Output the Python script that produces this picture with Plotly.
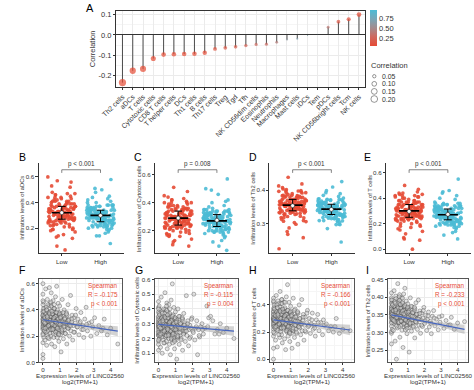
import numpy as np
import plotly.graph_objects as go

W, H = 474, 390
FONT = "Liberation Sans, Arial, sans-serif"

# ---------------- Panel A data ----------------
cells = ["Th2 cells", "aDCs", "T cells", "Cytotoxic cells", "CD8 T cells", "T helper cells",
         "DCs", "Th1 cells", "B cells", "Th17 cells", "Treg", "Tgd", "Tfh",
         "NK CD56dim cells", "Eosinophils", "Neutrophils", "Macrophages", "Mast cells",
         "iDCs", "Tem", "pDCs", "NK CD56bright cells", "Tcm", "NK cells"]
corr = [-0.233, -0.175, -0.166, -0.115, -0.096, -0.094, -0.093, -0.092, -0.087, -0.068,
        -0.063, -0.058, -0.052, -0.046, -0.045, -0.036, -0.022, -0.018, -0.002, 0.001,
        0.038, 0.065, 0.077, 0.100]
pval = [1e-7, 1e-4, 1e-4, 0.008, 0.027, 0.030, 0.032, 0.034, 0.045, 0.12,
        0.15, 0.18, 0.23, 0.29, 0.30, 0.41, 0.61, 0.68, 0.96, 0.98,
        0.38, 0.13, 0.076, 0.021]
a_ytick_vals = [-0.2, -0.1, 0.0, 0.1]
a_ytick_text = ["-0.2", "-0.1", "0.0", "0.1"]
cbar_ticks = [0.25, 0.50, 0.75]
size_legend = [0.05, 0.10, 0.15, 0.20]

# ---------------- per-sample data (B-I) ----------------
expr = [0]*14 + [
    0.02, 0.04, 0.05, 0.07, 0.08, 0.10, 0.11, 0.12, 0.14, 0.15, 0.16, 0.18, 0.19, 0.21, 0.22,
    0.23, 0.25, 0.26, 0.27, 0.28, 0.30, 0.31, 0.32, 0.33, 0.35, 0.36, 0.37, 0.38, 0.39, 0.40,
    0.41, 0.42, 0.43, 0.44, 0.45, 0.46, 0.47, 0.48, 0.49, 0.50, 0.51, 0.53, 0.54, 0.55, 0.57,
    0.58, 0.59, 0.60, 0.61, 0.62, 0.63, 0.64, 0.65, 0.66, 0.67, 0.68, 0.69, 0.70, 0.71, 0.72,
    0.73, 0.74, 0.75, 0.76, 0.77, 0.78,
    0.79, 0.80, 0.81, 0.82, 0.83, 0.84, 0.85, 0.86, 0.88, 0.89, 0.90, 0.91, 0.92, 0.94, 0.95,
    0.96, 0.97, 0.98, 0.99,
    1.00, 1.02, 1.04, 1.05, 1.07, 1.08, 1.10, 1.12, 1.14, 1.15, 1.17, 1.19, 1.21, 1.23, 1.25,
    1.27, 1.29, 1.31, 1.33, 1.36, 1.38, 1.41, 1.43, 1.46, 1.48,
    1.51, 1.54, 1.57, 1.60, 1.63, 1.66, 1.69, 1.72, 1.76, 1.79, 1.83, 1.87, 1.91, 1.96,
    2.01, 2.07, 2.13, 2.18, 2.24, 2.29, 2.35, 2.41, 2.47,
    2.55, 2.63, 2.72, 2.83, 2.94,
    3.05, 3.18, 3.30, 3.45, 3.62, 3.80, 4.00, 4.42,
    0, 0, 0, 0, 0, 0, 0, 0,
    0.01, 0.03, 0.06, 0.09, 0.13, 0.17, 0.20, 0.24, 0.29, 0.34, 0.03, 0.06, 0.09, 0.12, 0.16,
    0.20, 0.24, 0.28, 0.31, 0.35, 0.38, 0.41, 0.44, 0.47, 0.05, 0.14, 0.22, 0.27, 0.33, 0.39,
    0.43, 0.46, 0.49, 0.11, 0.25,
    0.52, 0.56, 0.60, 0.63, 0.66, 0.69, 0.72, 0.75, 0.78, 0.81, 0.84, 0.87, 0.90, 0.93, 0.96,
    0.99, 0.53, 0.58, 0.62, 0.67, 0.71, 0.76, 0.80, 0.85, 0.89, 0.94, 0.98, 0.55, 0.65, 0.74,
    1.01, 1.06, 1.11, 1.16, 1.20, 1.24, 1.28, 1.32, 1.37, 1.42, 1.47, 1.52, 1.56, 1.03, 1.13,
    1.26, 1.39,
    1.64, 1.71, 1.82, 1.93, 2.04, 2.21, 2.38, 2.58,
    2.88, 3.55]

adcs = [
    0.60, 0.03, 0.36, 0.28, 0.44, 0.22, 0.31, 0.06, 0.39, 0.15, 0.33, 0.52, 0.26, 0.35,
    0.29, 0.46, 0.19, 0.34, 0.25, 0.41, 0.30, 0.17, 0.37, 0.23, 0.56, 0.32, 0.27, 0.40, 0.13,
    0.35, 0.29, 0.48, 0.21, 0.33, 0.24, 0.38, 0.31, 0.27, 0.43, 0.18, 0.34, 0.57, 0.28, 0.36,
    0.22, 0.45, 0.30, 0.26, 0.39, 0.32, 0.20, 0.35, 0.53, 0.29, 0.14, 0.37, 0.25, 0.42, 0.31,
    0.27, 0.34, 0.47, 0.23, 0.36, 0.30, 0.19, 0.39, 0.28, 0.33, 0.24, 0.41, 0.12, 0.31, 0.35,
    0.26, 0.50, 0.29, 0.38, 0.21, 0.32,
    0.27, 0.36, 0.58, 0.24, 0.31, 0.19, 0.40, 0.28, 0.33, 0.22, 0.45, 0.30, 0.35, 0.16, 0.29,
    0.38, 0.25, 0.32, 0.43,
    0.27, 0.34, 0.21, 0.30, 0.08, 0.37, 0.26, 0.32, 0.48, 0.23, 0.29, 0.35, 0.18, 0.31, 0.40,
    0.25, 0.28, 0.34, 0.22, 0.30, 0.38, 0.14, 0.27, 0.32, 0.44,
    0.26, 0.33, 0.20, 0.29, 0.51, 0.24, 0.31, 0.36, 0.17, 0.28, 0.34, 0.23, 0.30, 0.41,
    0.27, 0.33, 0.21, 0.30, 0.38, 0.25, 0.28, 0.19, 0.33,
    0.42, 0.24, 0.30, 0.20, 0.27,
    0.34, 0.22, 0.28, 0.24, 0.33, 0.21, 0.26, 0.14,
    0.38, 0.27, 0.33, 0.47, 0.21, 0.30, 0.36, 0.25,
    0.32, 0.41, 0.26, 0.35, 0.29, 0.37, 0.23, 0.33, 0.44, 0.28, 0.31, 0.39, 0.24, 0.34, 0.30,
    0.42, 0.27, 0.36, 0.19, 0.33, 0.38, 0.29, 0.35, 0.46, 0.31, 0.26, 0.40, 0.34, 0.28, 0.37,
    0.32, 0.25, 0.43, 0.30, 0.35,
    0.30, 0.37, 0.26, 0.33, 0.41, 0.28, 0.35, 0.23, 0.31, 0.38, 0.27, 0.34, 0.29, 0.22, 0.36,
    0.31, 0.39, 0.25, 0.32, 0.44, 0.28, 0.35, 0.30, 0.26, 0.33, 0.21, 0.37, 0.29, 0.34, 0.31,
    0.29, 0.35, 0.24, 0.31, 0.38, 0.27, 0.33, 0.22, 0.30, 0.36, 0.26, 0.32, 0.28, 0.34, 0.25,
    0.30, 0.37,
    0.28, 0.33, 0.23, 0.36, 0.27, 0.31, 0.25, 0.29,
    0.31, 0.26]

cyto = [
    0.45, 0.22, 0.31, 0.25, 0.38, 0.18, 0.29, 0.12, 0.34, 0.16, 0.27, 0.41, 0.23, 0.32,
    0.26, 0.42, 0.20, 0.30, 0.24, 0.36, 0.28, 0.14, 0.33, 0.22, 0.48, 0.29, 0.25, 0.35, 0.10,
    0.31, 0.27, 0.39, 0.19, 0.30, 0.23, 0.35, 0.28, 0.26, 0.37, 0.17, 0.31, 0.51, 0.24, 0.33,
    0.21, 0.40, 0.29, 0.22, 0.34, 0.30, 0.18, 0.32, 0.44, 0.27, 0.13, 0.32, 0.24, 0.38, 0.28,
    0.25, 0.33, 0.43, 0.20, 0.31, 0.27, 0.16, 0.36, 0.26, 0.29, 0.23, 0.35, 0.09, 0.30, 0.32,
    0.22, 0.46, 0.28, 0.34, 0.19, 0.29,
    0.24, 0.33, 0.57, 0.22, 0.28, 0.17, 0.36, 0.26, 0.30, 0.20, 0.41, 0.27, 0.31, 0.13, 0.26,
    0.34, 0.23, 0.29, 0.38,
    0.25, 0.31, 0.19, 0.27, 0.06, 0.33, 0.24, 0.29, 0.40, 0.21, 0.27, 0.31, 0.16, 0.28, 0.35,
    0.22, 0.26, 0.30, 0.20, 0.28, 0.33, 0.12, 0.25, 0.29, 0.37,
    0.24, 0.30, 0.18, 0.27, 0.49, 0.22, 0.28, 0.32, 0.15, 0.26, 0.29, 0.21, 0.27, 0.34,
    0.25, 0.50, 0.19, 0.27, 0.32, 0.09, 0.26, 0.21, 0.28,
    0.30, 0.23, 0.27, 0.42, 0.34,
    0.35, 0.32, 0.23, 0.26, 0.30, 0.24, 0.27, 0.20,
    0.33, 0.24, 0.30, 0.40, 0.19, 0.28, 0.35, 0.22,
    0.29, 0.37, 0.23, 0.32, 0.27, 0.34, 0.21, 0.30, 0.40, 0.25, 0.28, 0.36, 0.22, 0.31, 0.27,
    0.38, 0.24, 0.33, 0.17, 0.30, 0.35, 0.26, 0.32, 0.42, 0.28, 0.23, 0.37, 0.31, 0.25, 0.34,
    0.29, 0.22, 0.39, 0.27, 0.32,
    0.27, 0.34, 0.23, 0.30, 0.37, 0.25, 0.32, 0.20, 0.28, 0.35, 0.24, 0.31, 0.26, 0.19, 0.33,
    0.28, 0.36, 0.22, 0.29, 0.40, 0.25, 0.32, 0.27, 0.23, 0.30, 0.18, 0.34, 0.26, 0.31, 0.28,
    0.26, 0.32, 0.21, 0.28, 0.35, 0.24, 0.30, 0.19, 0.27, 0.33, 0.23, 0.29, 0.25, 0.31, 0.22,
    0.27, 0.34,
    0.25, 0.30, 0.20, 0.33, 0.24, 0.28, 0.22, 0.26,
    0.28, 0.23]

th2 = [
    0.412, 0.298, 0.361, 0.343, 0.384, 0.318, 0.352, 0.268, 0.373, 0.303, 0.357, 0.398, 0.331, 0.366,
    0.348, 0.392, 0.309, 0.362, 0.337, 0.381, 0.354, 0.306, 0.371, 0.326, 0.418, 0.349, 0.341, 0.374,
    0.276, 0.359, 0.346, 0.403, 0.322, 0.364, 0.225, 0.377, 0.351, 0.338, 0.389, 0.313, 0.363, 0.438,
    0.336, 0.369, 0.328, 0.394, 0.355, 0.332, 0.383, 0.357, 0.317, 0.372, 0.407, 0.344, 0.287, 0.368,
    0.339, 0.379, 0.353,
    0.342, 0.358, 0.397, 0.321, 0.367, 0.347, 0.307, 0.378, 0.336, 0.356, 0.329, 0.382, 0.258, 0.352,
    0.363, 0.327, 0.409, 0.348, 0.372, 0.316, 0.354,
    0.337, 0.361, 0.425, 0.326, 0.349, 0.308, 0.371, 0.341, 0.353, 0.318, 0.389, 0.343, 0.359, 0.297,
    0.338, 0.367, 0.329, 0.348, 0.381,
    0.331, 0.357, 0.314, 0.344, 0.245, 0.369, 0.333, 0.351, 0.398, 0.322, 0.339, 0.358, 0.304, 0.347,
    0.373, 0.327, 0.336, 0.354, 0.315, 0.342, 0.363, 0.285, 0.331, 0.349, 0.384,
    0.328, 0.352, 0.309, 0.338, 0.392, 0.321, 0.343, 0.361, 0.298, 0.336, 0.355, 0.317, 0.341, 0.371,
    0.326, 0.349, 0.306, 0.337, 0.358, 0.316, 0.332, 0.297, 0.346,
    0.362, 0.319, 0.338, 0.308, 0.329,
    0.347, 0.312, 0.334, 0.321, 0.343, 0.309, 0.327, 0.331,
    0.371, 0.343, 0.358, 0.392, 0.327, 0.352, 0.366, 0.338,
    0.356, 0.381, 0.339, 0.363, 0.347, 0.374, 0.331, 0.358, 0.396, 0.342, 0.352, 0.378, 0.336, 0.361,
    0.349, 0.387, 0.341, 0.366, 0.318, 0.357, 0.372, 0.346, 0.362, 0.401, 0.351, 0.334, 0.383, 0.359,
    0.343, 0.369, 0.355, 0.329, 0.391, 0.348, 0.364,
    0.348, 0.369, 0.332, 0.356, 0.384, 0.341, 0.362, 0.324, 0.351, 0.376, 0.338, 0.359, 0.344, 0.319,
    0.367, 0.352, 0.379, 0.333, 0.355, 0.397, 0.341, 0.363, 0.349, 0.335, 0.357, 0.312, 0.372, 0.345,
    0.361, 0.353,
    0.343, 0.362, 0.325, 0.349, 0.374, 0.336, 0.356, 0.318, 0.345, 0.367, 0.331, 0.352, 0.339, 0.358,
    0.327, 0.346, 0.371,
    0.338, 0.354, 0.321, 0.362, 0.333, 0.347, 0.326, 0.341,
    0.344, 0.322]

tcell = [
    0.42, 0.00, 0.33, 0.27, 0.37, 0.22, 0.30, 0.08, 0.35, 0.17, 0.29, 0.45, 0.25, 0.31,
    0.28, 0.40, 0.19, 0.32, 0.26, 0.36, 0.29, 0.14, 0.34, 0.24, 0.47, 0.30, 0.26, 0.38, 0.09,
    0.31, 0.28, 0.43, 0.21, 0.29, 0.24, 0.35, 0.27, 0.25, 0.39, 0.16, 0.32, 0.50, 0.26, 0.33,
    0.20, 0.41, 0.30, 0.23, 0.36, 0.28, 0.18, 0.34, 0.44, 0.27, 0.12, 0.33, 0.25, 0.37, 0.29,
    0.26, 0.31, 0.42, 0.22, 0.30, 0.28, 0.15, 0.37, 0.27, 0.32, 0.24, 0.34, 0.07, 0.29, 0.35,
    0.23, 0.46, 0.26, 0.33, 0.20, 0.30,
    0.24, 0.31, 0.55, 0.22, 0.27, 0.17, 0.36, 0.25, 0.29, 0.20, 0.42, 0.26, 0.33, 0.13, 0.27,
    0.34, 0.23, 0.30, 0.39,
    0.24, 0.32, 0.19, 0.27, 0.08, 0.35, 0.25, 0.28, 0.45, 0.21, 0.26, 0.31, 0.16, 0.29, 0.37,
    0.22, 0.25, 0.32, 0.19, 0.27, 0.34, 0.11, 0.24, 0.28, 0.40,
    0.23, 0.30, 0.18, 0.26, 0.44, 0.21, 0.29, 0.33, 0.14, 0.25, 0.31, 0.20, 0.27, 0.36,
    0.24, 0.30, 0.19, 0.26, 0.34, 0.22, 0.25, 0.17, 0.29,
    0.33, 0.21, 0.27, 0.18, 0.25,
    0.26, 0.21, 0.24, 0.20, 0.30, 0.19, 0.22, 0.21,
    0.35, 0.26, 0.31, 0.43, 0.20, 0.29, 0.33, 0.24,
    0.30, 0.38, 0.24, 0.33, 0.28, 0.35, 0.22, 0.31, 0.41, 0.26, 0.29, 0.37, 0.23, 0.32, 0.28,
    0.40, 0.25, 0.34, 0.18, 0.31, 0.36, 0.27, 0.33, 0.44, 0.29, 0.24, 0.38, 0.32, 0.26, 0.35,
    0.30, 0.23, 0.41, 0.28, 0.33,
    0.28, 0.35, 0.24, 0.31, 0.38, 0.26, 0.33, 0.21, 0.29, 0.36, 0.25, 0.32, 0.27, 0.20, 0.34,
    0.29, 0.37, 0.23, 0.30, 0.42, 0.26, 0.33, 0.28, 0.24, 0.31, 0.19, 0.35, 0.27, 0.32, 0.29,
    0.27, 0.33, 0.22, 0.29, 0.36, 0.25, 0.31, 0.20, 0.28, 0.34, 0.24, 0.30, 0.26, 0.32, 0.23,
    0.28, 0.35,
    0.26, 0.31, 0.21, 0.34, 0.25, 0.29, 0.23, 0.27,
    0.29, 0.24]

groups = ["Low", "High"]
group_p = ["p < 0.001", "p = 0.008", "p < 0.001", "p < 0.001"]   # B, C, D, E
spear_r = ["R = -0.175", "R = -0.115", "R = -0.166", "R = -0.233"]  # F, G, H, I
spear_p = ["p < 0.001", "p = 0.004", "p < 0.001", "p < 0.001"]

fit_x = [0, 1, 2, 3, 4, 4.42]
fit_F = [0.325, 0.305, 0.286, 0.266, 0.246, 0.238]
hw_F = [0.010, 0.007, 0.012, 0.022, 0.033, 0.038]
fit_G = [0.295, 0.285, 0.275, 0.264, 0.254, 0.250]
hw_G = [0.009, 0.006, 0.010, 0.019, 0.028, 0.033]
fit_H = [0.290, 0.273, 0.256, 0.239, 0.222, 0.215]
hw_H = [0.010, 0.007, 0.012, 0.022, 0.033, 0.038]
fit_I = [0.350, 0.341, 0.331, 0.322, 0.313, 0.309]
hw_I = [0.004, 0.003, 0.004, 0.007, 0.011, 0.013]

n = len(expr)
assert all(len(a) == n for a in (adcs, cyto, th2, tcell)), [len(a) for a in (expr, adcs, cyto, th2, tcell)]

# ---------------- helpers ----------------
def pxx(x):
    return x / W

def pyy(y):
    return 1 - y / H

def dot(r):
    return 15 * np.sqrt(abs(r))

RED = "#E64B35"
BLUE = "#4DBBD5"
TXT = "#333333"

def ax_common(**kw):
    d = dict(showgrid=False, zeroline=False, showline=True, linecolor=TXT, linewidth=0.7,
             ticks="outside", ticklen=2.2, tickwidth=0.6, tickcolor=TXT,
             tickfont=dict(size=6.2, color=TXT, family=FONT), fixedrange=True)
    d.update(kw)
    return d

fig = go.Figure()
layout = dict(width=W, height=H, margin=dict(l=0, r=0, t=0, b=0), autosize=False,
              paper_bgcolor="white", plot_bgcolor="white", showlegend=False,
              font=dict(family=FONT, color=TXT))
annotations = []
shapes = []

def ann(text, x, y, size=6.3, xanchor="center", yanchor="middle", color=TXT, angle=0,
        xref="paper", yref="paper"):
    annotations.append(dict(text=text, x=x, y=y, xref=xref, yref=yref, showarrow=False,
                            xanchor=xanchor, yanchor=yanchor, textangle=angle, borderpad=0,
                            font=dict(size=size, color=color, family=FONT)))

# ---------------- Panel A ----------------
sx, sy = [], []
for c, r in zip(cells, corr):
    sx += [c, c, None]
    sy += [0, r, None]
fig.add_trace(go.Scatter(x=sx, y=sy, mode="lines", line=dict(color="#3a3a3a", width=0.9),
                         xaxis="x", yaxis="y", hoverinfo="skip"))
CS = [[0.0, "#E64B35"], [0.25, "#D0675C"], [0.5, "#A38C8E"], [0.75, "#78A7B8"], [1.0, "#4DBBD5"]]
fig.add_trace(go.Scatter(
    x=cells, y=corr, mode="markers", xaxis="x", yaxis="y",
    marker=dict(size=[dot(r) for r in corr], color=pval, cmin=0.04, cmax=0.97, colorscale=CS,
                line=dict(width=0),
                colorbar=dict(x=pxx(366.7), xanchor="left", y=pyy(25.5), yanchor="middle",
                              len=37 / H, lenmode="fraction", thickness=7, thicknessmode="pixels",
                              tickvals=cbar_ticks, ticktext=["%.2f" % t for t in cbar_ticks],
                              tickfont=dict(size=7.5, color=TXT, family=FONT), ticks="",
                              outlinewidth=0, xpad=0, ypad=0))))

layout["xaxis"] = ax_common(domain=[pxx(104.6), pxx(361.6)], anchor="y", type="category",
                            categoryorder="array", categoryarray=cells, range=[-0.6, 23.6],
                            tickangle=-45, showgrid=True, gridcolor="#EBEBEB", gridwidth=0.6,
                            mirror=True, ticklen=2.5, tickfont=dict(size=7, color=TXT, family=FONT))
layout["yaxis"] = ax_common(domain=[pyy(85), pyy(8)], anchor="x", range=[-0.253, 0.118],
                            tickvals=a_ytick_vals, ticktext=a_ytick_text, showgrid=True,
                            gridcolor="#EBEBEB", gridwidth=0.6, mirror=True, zeroline=True,
                            zerolinecolor="#333", zerolinewidth=0.9, ticklen=2.5,
                            minor=dict(tickvals=[-0.25, -0.15, -0.05, 0.05], showgrid=True,
                                       gridcolor="#F5F5F5", ticks=""),
                            tickfont=dict(size=7.5, color=TXT, family=FONT))
ann("A", pxx(72), pyy(5), size=11, xanchor="left", color="black")
ann("Correlation", pxx(80), pyy(46.5), size=7.5, angle=-90)

# size legend (axis 10)
layout["xaxis10"] = dict(domain=[pxx(362), pxx(380)], range=[362, 380], visible=False,
                         anchor="y10", fixedrange=True)
layout["yaxis10"] = dict(domain=[pyy(102), pyy(68)], range=[102, 68], visible=False,
                         anchor="x10", fixedrange=True)
leg_y = [74.4, 82.1, 89.8, 97.5]
fig.add_trace(go.Scatter(x=[371] * 4, y=leg_y, mode="markers", xaxis="x10", yaxis="y10",
                         marker=dict(size=[dot(s) for s in size_legend], symbol="circle-open",
                                     color="#444", line=dict(width=0.8, color="#444")),
                         hoverinfo="skip"))
ann("Correlation", pxx(367), pyy(63.3), size=7.5, xanchor="left")
for s, yy in zip(size_legend, leg_y):
    ann("%.2f" % s, pxx(377.5), pyy(yy), size=6.9, xanchor="left")

# ---------------- Panels B-E (jitter) ----------------
expr_a = np.array(expr)
med = np.median(expr_a)
is_low = expr_a < med

box_panels = [
    dict(vals=adcs, letter="B", lx=3, x0=24.3, yr=[0.005, 0.705], dt=0.2, t0=0.2,
         title="Infiltration levels of aDCs"),
    dict(vals=cyto, letter="C", lx=122, x0=144.5, yr=[0.04, 0.68], dt=0.2, t0=0.2,
         title="Infiltration levels of Cytotoxic cells"),
    dict(vals=th2, letter="D", lx=241, x0=262.7, yr=[0.212, 0.479], dt=0.1, t0=0.3,
         title="Infiltration levels of Th2 cells"),
    dict(vals=tcell, letter="E", lx=359, x0=383, yr=[-0.031, 0.672], dt=0.2, t0=0.0,
         title="Infiltration levels of T cells"),
]
for k, p in enumerate(box_panels):
    ai = k + 2
    xa, ya = "x%d" % ai, "y%d" % ai
    v = np.array(p["vals"])
    for gi, (mask, col) in enumerate([(is_low, RED), (~is_low, BLUE)]):
        g = gi + 1
        gv = v[mask]
        m = len(gv)
        jit = ((np.arange(m) * 0.6180339887 + 0.31 * gi) % 1 - 0.5) * 0.72
        fig.add_trace(go.Scatter(x=g + jit, y=gv, mode="markers", xaxis=xa, yaxis=ya,
                                 marker=dict(size=3.7, color=col, opacity=0.9, line=dict(width=0)),
                                 hoverinfo="skip"))
        q1, q2, q3 = np.percentile(gv, [25, 50, 75])
        mu = gv.mean()
        fig.add_trace(go.Scatter(x=[g, g, None, g - 0.1, g + 0.1, None, g - 0.1, g + 0.1],
                                 y=[q1, q3, None, q1, q1, None, q3, q3], mode="lines",
                                 xaxis=xa, yaxis=ya, line=dict(color="black", width=1.0),
                                 hoverinfo="skip"))
        fig.add_trace(go.Scatter(x=[g - 0.26, g + 0.26], y=[q2, q2], mode="lines",
                                 xaxis=xa, yaxis=ya, line=dict(color="black", width=1.6),
                                 hoverinfo="skip"))
        fig.add_trace(go.Scatter(x=[g], y=[mu], mode="markers", xaxis=xa, yaxis=ya,
                                 marker=dict(size=4, color="white", line=dict(color="#222", width=0.6)),
                                 hoverinfo="skip"))
    x0 = p["x0"]
    layout["xaxis%d" % ai] = ax_common(domain=[pxx(x0), pxx(x0 + 88)], anchor=ya,
                                       range=[0.4, 2.6], tickvals=[1, 2], ticktext=groups)
    layout["yaxis%d" % ai] = ax_common(domain=[pyy(254), pyy(163)], anchor=xa, range=p["yr"],
                                       tick0=p["t0"], dtick=p["dt"], tickformat=".1f")
    d = 0.93
    shapes.append(dict(type="path", xref=xa, yref=ya + " domain",
                       path="M 1,%.3f L 1,%.3f L 2,%.3f L 2,%.3f" % (d - 0.035, d, d, d - 0.035),
                       line=dict(color=TXT, width=0.6)))
    ann(group_p[k], 1.5, d + 0.012, xref=xa, yref=ya + " domain", yanchor="bottom")
    ann(p["letter"], pxx(p["lx"]), pyy(156), size=10.5, xanchor="left", color="black")
    ann(p["title"], pxx(x0 - 16.5), pyy(208.5), size=5.8, angle=-90)

# ---------------- Panels F-I (scatter) ----------------
sc_panels = [
    dict(vals=adcs, letter="F", lx=3, x0=25, x1=110, yr=[0.0, 0.638], dt=0.2, t0=0.2, fmt=".1f",
         fit=fit_F, hw=hw_F, title="Infiltration levels of aDCs", tgap=18),
    dict(vals=cyto, letter="G", lx=123, x0=144.3, x1=230, yr=[0.038, 0.605], dt=0.1, t0=0.1,
         fmt=".1f", fit=fit_G, hw=hw_G, title="Infiltration levels of Cytotoxic cells", tgap=19),
    dict(vals=tcell, letter="H", lx=241, x0=263, x1=350, yr=[-0.024, 0.594], dt=0.2, t0=0.0,
         fmt=".1f", fit=fit_H, hw=hw_H, title="Infiltration levels of T cells", tgap=17),
    dict(vals=th2, letter="I", lx=361, x0=385, x1=468, yr=[0.216, 0.452], dt=0.05, t0=0.25,
         fmt=".2f", fit=fit_I, hw=hw_I, title="Infiltration levels of Th2 cells", tgap=20.5),
]
for k, p in enumerate(sc_panels):
    ai = k + 6
    xa, ya = "x%d" % ai, "y%d" % ai
    fig.add_trace(go.Scatter(x=expr, y=p["vals"], mode="markers", xaxis=xa, yaxis=ya,
                             marker=dict(size=4, color="rgba(205,205,205,0.55)",
                                         line=dict(color="rgba(60,60,60,0.75)", width=0.5)),
                             hoverinfo="skip"))
    hi = [f + h for f, h in zip(p["fit"], p["hw"])]
    lo = [f - h for f, h in zip(p["fit"], p["hw"])]
    fig.add_trace(go.Scatter(x=fit_x + fit_x[::-1], y=hi + lo[::-1], fill="toself",
                             fillcolor="rgba(150,150,150,0.42)", line=dict(width=0),
                             mode="lines", xaxis=xa, yaxis=ya, hoverinfo="skip"))
    fig.add_trace(go.Scatter(x=fit_x, y=p["fit"], mode="lines", xaxis=xa, yaxis=ya,
                             line=dict(color="#4766BF", width=1.2), hoverinfo="skip"))
    layout["xaxis%d" % ai] = ax_common(domain=[pxx(p["x0"]), pxx(p["x1"])], anchor=ya,
                                       range=[-0.22, 4.64], tick0=0, dtick=1, mirror=True,
                                       linecolor="#555", showgrid=True, gridcolor="#EBEBEB",
                                       gridwidth=0.6, ticklen=1.8,
                                       minor=dict(dtick=0.5, tick0=0, showgrid=True,
                                                  gridcolor="#F5F5F5", ticks=""))
    layout["yaxis%d" % ai] = ax_common(domain=[pyy(365), pyy(280)], anchor=xa, range=p["yr"],
                                       tick0=p["t0"], dtick=p["dt"], tickformat=p["fmt"],
                                       mirror=True, linecolor="#555", showgrid=True,
                                       gridcolor="#EBEBEB", gridwidth=0.6,
                                       minor=dict(dtick=p["dt"] / 2, tick0=p["t0"], showgrid=True,
                                                  gridcolor="#F5F5F5", ticks=""))
    xr = pxx(p["x1"] - 2.5)
    ann("Spearman", xr, pyy(287.7), xanchor="right", color=RED)
    ann(spear_r[k], xr, pyy(296.5), xanchor="right", color=RED)
    ann(spear_p[k], xr, pyy(305.3), xanchor="right", color=RED)
    cx = pxx((p["x0"] + p["x1"]) / 2)
    ann("Expression levels of LINC02560", cx, pyy(378.2), size=6.2)
    ann("log2(TPM+1)", cx, pyy(384.8), size=6.2)
    ann(p["letter"], pxx(p["lx"]), pyy(271), size=10.5, xanchor="left", color="black")
    ann(p["title"], pxx(p["x0"] - p["tgap"]), pyy(322.5), size=5.8, angle=-90)

layout["annotations"] = annotations
layout["shapes"] = shapes
fig.update_layout(**layout)
fig.write_html("out.html", config={"displayModeBar": False},
               post_script="document.body.style.margin='0px';document.body.style.overflow='hidden';")
